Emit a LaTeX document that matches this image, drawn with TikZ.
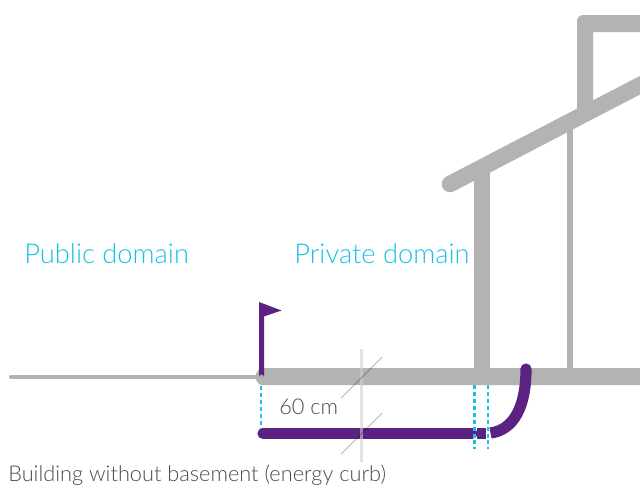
\documentclass[tikz,border=0pt]{standalone}
\usepackage{fontspec}
\setmainfont{Lato Light}
\definecolor{band}{HTML}{B3B3B3}
\definecolor{plum}{HTML}{5B2282}
\definecolor{sky}{HTML}{18C0E6}
\definecolor{txt}{HTML}{4A4A4A}
\tikzset{
 wallline/.style={draw=band,line width=12.4pt},
 dotline/.style={draw=sky,line width=1.6pt,dash pattern=on 3pt off 2.2pt},
 tickline/.style={draw=black,draw opacity=0.25,line width=0.8pt},
 pipeline/.style={draw=plum,line width=8.4pt},
 domainlabel/.style={text=sky,font=\fontsize{20.5}{23}\selectfont,inner sep=0,anchor=base west},
 notelabel/.style={text=txt,font=\fontsize{16.3}{19}\selectfont,inner sep=0,anchor=base west}
}
\begin{document}
\begin{tikzpicture}[x=0.75pt,y=-0.75pt]
\useasboundingbox (0,0) rectangle (640,490);
% ground
\draw[draw=band,line width=3.3pt,line cap=round] (11,377) -- (256,377);
\fill[band] (640,368) -- (262,368) to[out=180,in=45] (254,377) to[out=-45,in=180] (262,385) -- (640,385) -- cycle;
% walls
\draw[wallline] (482,377) -- (482,170);
\draw[draw=band,line width=4.6pt] (570,377) -- (570,125);
% roof
\draw[wallline,line cap=round] (450,184) -- (650,80);
% chimney
\fill[band] (577,120) -- (577,21) .. controls (577,17.7) and (579.7,15) .. (583,15) -- (640,15) -- (640,32) -- (593,32) -- (593,105) -- cycle;
% flag
\fill[plum] (259,302) -- (281.5,310.5) -- (264,316.5) -- (264,377) arc[start angle=0,end angle=-180,radius=2.5] -- cycle;
% pipe
\draw[pipeline,line cap=round] (263,433.5) -- (472,433.5);
\draw[pipeline] (477,433.5) -- (486,433.5);
\draw[pipeline] (490.5,433) .. controls (513,430) and (526,408) .. (526,369);
\fill[plum] (526,369) circle[radius=5.6];
% dots
\draw[dotline] (261,386) -- (261,428);
\draw[dotline] (474.5,385) -- (474.5,449);
\draw[dotline] (488,385) -- (488,449);
% measure
\draw[draw=black!19,draw opacity=0.6,line width=1.8pt] (361.5,349) -- (361.5,462);
\draw[tickline] (341,398) -- (382,357);
\draw[tickline] (341,454) -- (382,413);
% text
\node[domainlabel] (pub) at (24,263) {Public domain};
\node[domainlabel] (priv) at (294,263) {Private domain};
\node[notelabel] (cm) at (279,414) {60 cm};
\node[notelabel] (cap) at (8,481) {Building without basement (energy curb)};
\end{tikzpicture}
\end{document}
